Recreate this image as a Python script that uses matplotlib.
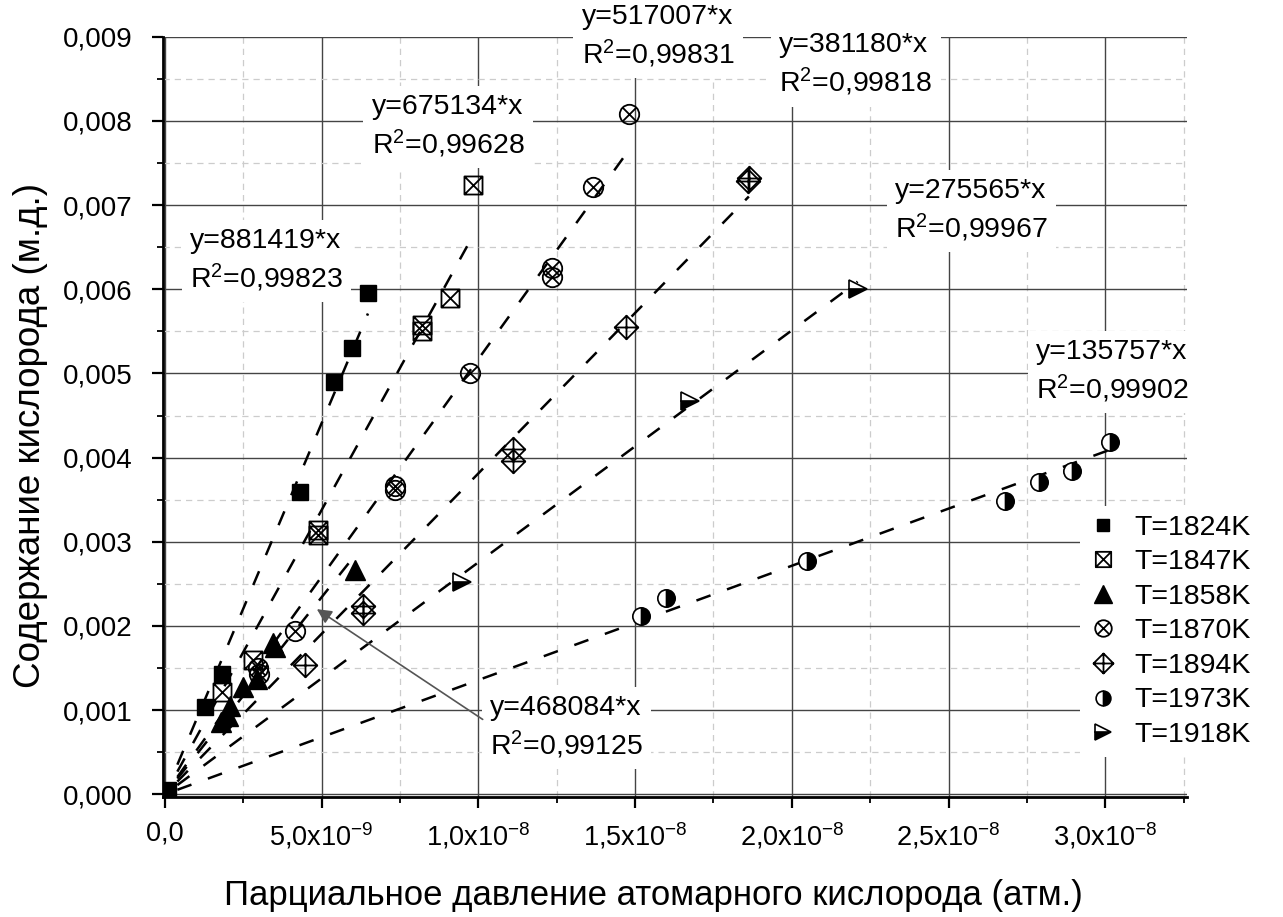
import numpy as np
import matplotlib
matplotlib.use('Agg')
import matplotlib.pyplot as plt
from matplotlib.path import Path
from matplotlib.ticker import MultipleLocator, FuncFormatter

plt.rcParams['font.family'] = ['Liberation Sans', 'DejaVu Sans']
plt.rcParams['mathtext.fontset'] = 'custom'
plt.rcParams['mathtext.rm'] = 'Liberation Sans'
plt.rcParams['mathtext.it'] = 'Liberation Sans:italic'
plt.rcParams['mathtext.default'] = 'regular'

# partial pressure of atomic oxygen (atm) vs oxygen content, per temperature
x1824 = [0.1e-9, 1.28e-9, 1.81e-9, 4.31e-9, 5.40e-9, 5.97e-9, 6.48e-9]
y1824 = [0.00005, 0.00104, 0.00143, 0.00359, 0.00490, 0.00530, 0.00596]

x1847 = [1.82e-9, 2.80e-9, 4.88e-9, 4.88e-9, 8.20e-9, 8.20e-9, 9.10e-9, 9.83e-9]
y1847 = [0.00122, 0.00160, 0.00308, 0.00314, 0.00550, 0.00558, 0.00590, 0.00724]

x1858 = [1.80e-9, 2.00e-9, 2.07e-9, 2.50e-9, 2.93e-9, 3.50e-9, 3.45e-9, 6.07e-9]
y1858 = [0.00086, 0.00093, 0.00105, 0.00127, 0.00137, 0.00175, 0.00180, 0.00267]

x1870 = [2.97e-9, 3.00e-9, 4.15e-9, 7.34e-9, 7.34e-9, 9.73e-9, 1.235e-8, 1.235e-8,
         1.365e-8, 1.48e-8]
y1870 = [0.00150, 0.00143, 0.00194, 0.00362, 0.00366, 0.00501, 0.00615, 0.00625,
         0.00722, 0.00808]

x1894 = [4.47e-9, 6.32e-9, 6.32e-9, 1.11e-8, 1.11e-8, 1.47e-8, 1.86e-8, 1.863e-8]
y1894 = [0.00154, 0.00216, 0.00224, 0.00396, 0.00410, 0.00555, 0.00728, 0.00732]

x1973 = [1.52e-8, 1.60e-8, 2.05e-8, 2.68e-8, 2.79e-8, 2.893e-8, 3.015e-8]
y1973 = [0.00212, 0.00233, 0.00277, 0.00348, 0.00371, 0.00384, 0.00419]

x1918 = [9.47e-9, 1.675e-8, 2.21e-8]
y1918 = [0.00252, 0.00467, 0.00600]

# fit slopes and R^2
slopes = {'1824': 881419, '1847': 675134, '1858': 468084, '1870': 517007,
          '1894': 381180, '1973': 135757, '1918': 275565}
r2 = {'1824': '0,99823', '1847': '0,99628', '1858': '0,99125', '1870': '0,99831',
      '1894': '0,99818', '1973': '0,99902', '1918': '0,99967'}


def square_x():
    v = [(-1, -1), (1, -1), (1, 1), (-1, 1), (-1, -1),
         (-1, -1), (1, 1), (-1, 1), (1, -1)]
    c = [Path.MOVETO, Path.LINETO, Path.LINETO, Path.LINETO, Path.CLOSEPOLY,
         Path.MOVETO, Path.LINETO, Path.MOVETO, Path.LINETO]
    return Path(v, c)


def circle_x():
    d = 0.707
    cross = Path([(-d, -d), (d, d), (-d, d), (d, -d)],
                 [Path.MOVETO, Path.LINETO, Path.MOVETO, Path.LINETO])
    return Path.make_compound_path(Path.unit_circle(), cross)


def diamond_plus():
    v = [(0, -1), (1, 0), (0, 1), (-1, 0), (0, -1),
         (0, -1), (0, 1), (-1, 0), (1, 0)]
    c = [Path.MOVETO, Path.LINETO, Path.LINETO, Path.LINETO, Path.CLOSEPOLY,
         Path.MOVETO, Path.LINETO, Path.MOVETO, Path.LINETO]
    return Path(v, c)


series = [
    ('1824', x1824, y1824, dict(marker='s', ms=11, mfc='black', mec='black')),
    ('1847', x1847, y1847, dict(marker=square_x(), ms=13, mfc='none', mec='black', mew=1.3)),
    ('1858', x1858, y1858, dict(marker='^', ms=15, mfc='black', mec='black')),
    ('1870', x1870, y1870, dict(marker=circle_x(), ms=14, mfc='none', mec='black', mew=1.3)),
    ('1894', x1894, y1894, dict(marker=diamond_plus(), ms=17, mfc='none', mec='black', mew=1.3)),
    ('1973', x1973, y1973, dict(marker='o', ms=12.5, fillstyle='right', mfc='black',
                                markerfacecoloralt='white', mec='black', mew=1.2)),
    ('1918', x1918, y1918, dict(marker='>', ms=13, fillstyle='bottom', mfc='black',
                                markerfacecoloralt='white', mec='black', mew=1.2)),
]

fig = plt.figure(figsize=(12.83, 9.17), dpi=100)
ax = fig.add_axes([0.127, 0.131, 0.798, 0.829])

# dashed fit lines through zero
for key, xs, ys, st in series:
    xl = np.array([0.4e-9, max(xs)])
    ax.plot(xl, slopes[key] * xl, color='black', lw=1.8, dashes=(6, 7), zorder=3)

for key, xs, ys, st in series:
    ax.plot(xs, ys, linestyle='none', label='T=%sK' % key, zorder=4, **st)

ax.set_xlim(-0.06e-9, 3.26e-8)
ax.set_ylim(-0.00003, 0.009)

ax.xaxis.set_major_locator(MultipleLocator(5e-9))
ax.xaxis.set_minor_locator(MultipleLocator(2.5e-9))
ax.yaxis.set_major_locator(MultipleLocator(0.001))
ax.yaxis.set_minor_locator(MultipleLocator(0.0005))


def xfmt(v, pos):
    if abs(v) < 1e-12:
        return '0,0'
    e = int(np.floor(np.log10(abs(v)) + 1e-9))
    m = v / 10 ** e
    return ('%.1f' % m).replace('.', ',') + 'x10$^{%d}$' % e


ax.xaxis.set_major_formatter(FuncFormatter(xfmt))
ax.yaxis.set_major_formatter(FuncFormatter(lambda v, p: ('%.3f' % v).replace('.', ',')))

ax.grid(which='major', color='#444444', lw=1.0, ls='-', zorder=0)
ax.grid(which='minor', color='#cccccc', lw=0.9, ls=(0, (5, 4)), zorder=0)
ax.set_axisbelow(True)

for s in ['top', 'right']:
    ax.spines[s].set_visible(False)
for s in ['left', 'bottom']:
    ax.spines[s].set_linewidth(2.0)

ax.tick_params(which='major', direction='out', length=8, width=1.6, labelsize=19.5)
ax.tick_params(which='minor', direction='out', length=4.5, width=1.3)
ax.tick_params(axis='x', which='major', pad=9)
ax.tick_params(axis='y', which='major', labelsize=20, pad=14)

ax.set_xlabel('Парциальное давление атомарного кислорода (атм.)', fontsize=25)
ax.set_ylabel('Содержание кислорода (м.д.)', fontsize=26.5)
ax.xaxis.set_label_coords(0.479, -0.108)
ax.yaxis.set_label_coords(-0.112, 0.476)

# fit equations
labels = [
    ('1824', 0.8e-9, 0.00634),
    ('1847', 6.6e-9, 0.00793),
    ('1870', 1.33e-8, 0.00900),
    ('1894', 1.96e-8, 0.00866),
    ('1918', 2.33e-8, 0.00693),
    ('1973', 2.78e-8, 0.00502),
    ('1858', 1.037e-8, 0.00079),
]
for key, tx, ty in labels:
    ax.text(tx, ty, 'y=%d*x\nR$^2$=%s' % (slopes[key], r2[key]), fontsize=20.5,
            ha='left', va='center', linespacing=1.3, clip_on=False, zorder=5,
            bbox=dict(facecolor='white', edgecolor='none', pad=6))

ax.annotate('', xy=(4.85e-9, 0.0022), xytext=(1.014e-8, 0.00089),
            arrowprops=dict(arrowstyle='-|>', color='#555555', lw=1.2,
                            mutation_scale=22, shrinkA=0, shrinkB=0), zorder=6)

leg = ax.legend(loc='upper left', bbox_to_anchor=(1066 / 1283, 1 - 492 / 917),
                bbox_transform=fig.transFigure, fontsize=20.5, frameon=True,
                fancybox=False, edgecolor='none', facecolor='white', framealpha=1,
                markerscale=0.85, handlelength=1.0, handletextpad=0.6,
                labelspacing=0.3, borderpad=0.3)

fig.savefig('out.png', dpi=100)
